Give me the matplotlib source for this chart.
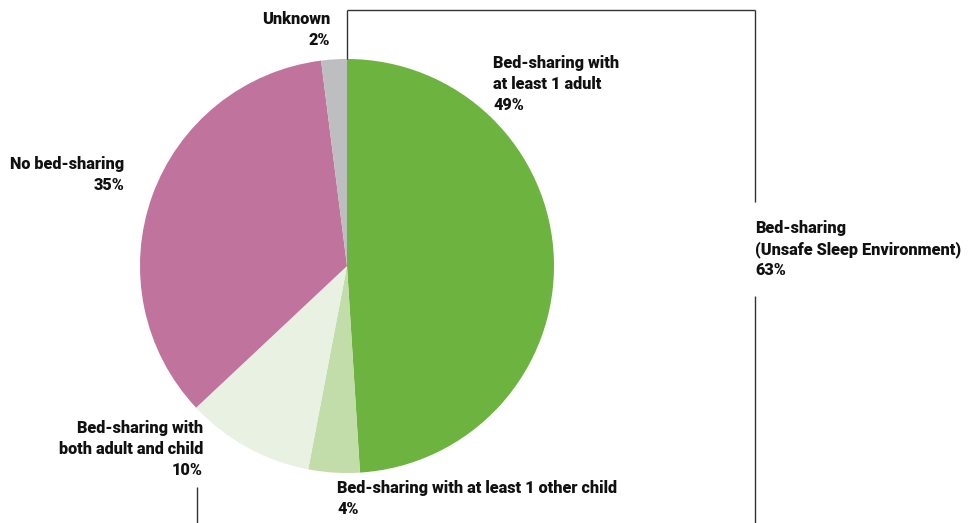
import matplotlib
matplotlib.use("Agg")
import matplotlib.pyplot as plt

# Sleep environment breakdown
labels = [
    "Bed-sharing with\nat least 1 adult",
    "Bed-sharing with at least 1 other child",
    "Bed-sharing with\nboth adult and child",
    "No bed-sharing",
    "Unknown",
]
values = [49, 4, 10, 35, 2]
colors = ["#6db33f", "#c2dcaa", "#e9f1e2", "#c0739c", "#bcbec0"]
group_label = "Bed-sharing\n(Unsafe Sleep Environment)"
group_value = 63

plt.rcParams["font.family"] = ["Roboto", "DejaVu Sans"]

W, H = 968, 523
fig = plt.figure(figsize=(W / 100, H / 100), dpi=100)
ax = fig.add_axes([0, 0, 1, 1])

cx, cy, r = 347, 266, 207
# y axis is flipped below, so counterclock=True draws clockwise on screen
ax.pie(values, colors=colors, startangle=-90, counterclock=True,
       center=(cx, cy), radius=r, frame=True,
       wedgeprops=dict(linewidth=0))
ax.set_xlim(0, W)
ax.set_ylim(H, 0)
ax.set_aspect("equal")
ax.axis("off")

txt = dict(fontsize=11.7, fontweight=900, color="#111111",
           linespacing=1.37, va="top")

ax.text(493, 55, f"{labels[0]}\n{values[0]}%", ha="left", **txt)
ax.text(337, 480, f"{labels[1]}\n{values[1]}%", ha="left", **txt)
ax.text(203, 420, f"{labels[2]}\n{values[2]}%", ha="right", multialignment="right", **txt)
ax.text(124, 156, f"{labels[3]}\n{values[3]}%", ha="right", multialignment="right", **txt)
ax.text(330, 11, f"{labels[4]}\n{values[4]}%", ha="right", multialignment="right", **txt)
ax.text(755, 220, f"{group_label}\n{group_value}%", ha="left", **txt)

# bracket around the bed-sharing slices
lk = dict(color="#333333", linewidth=1.0, solid_capstyle="butt")
ax.plot([cx, cx], [cy - r, 10], **lk)
ax.plot([cx, 755], [10, 10], **lk)
ax.plot([755, 755], [10, 202], **lk)
ax.plot([755, 755], [296, H], **lk)
ax.plot([197, 197], [487, H], **lk)

fig.savefig("out.png", dpi=100)
